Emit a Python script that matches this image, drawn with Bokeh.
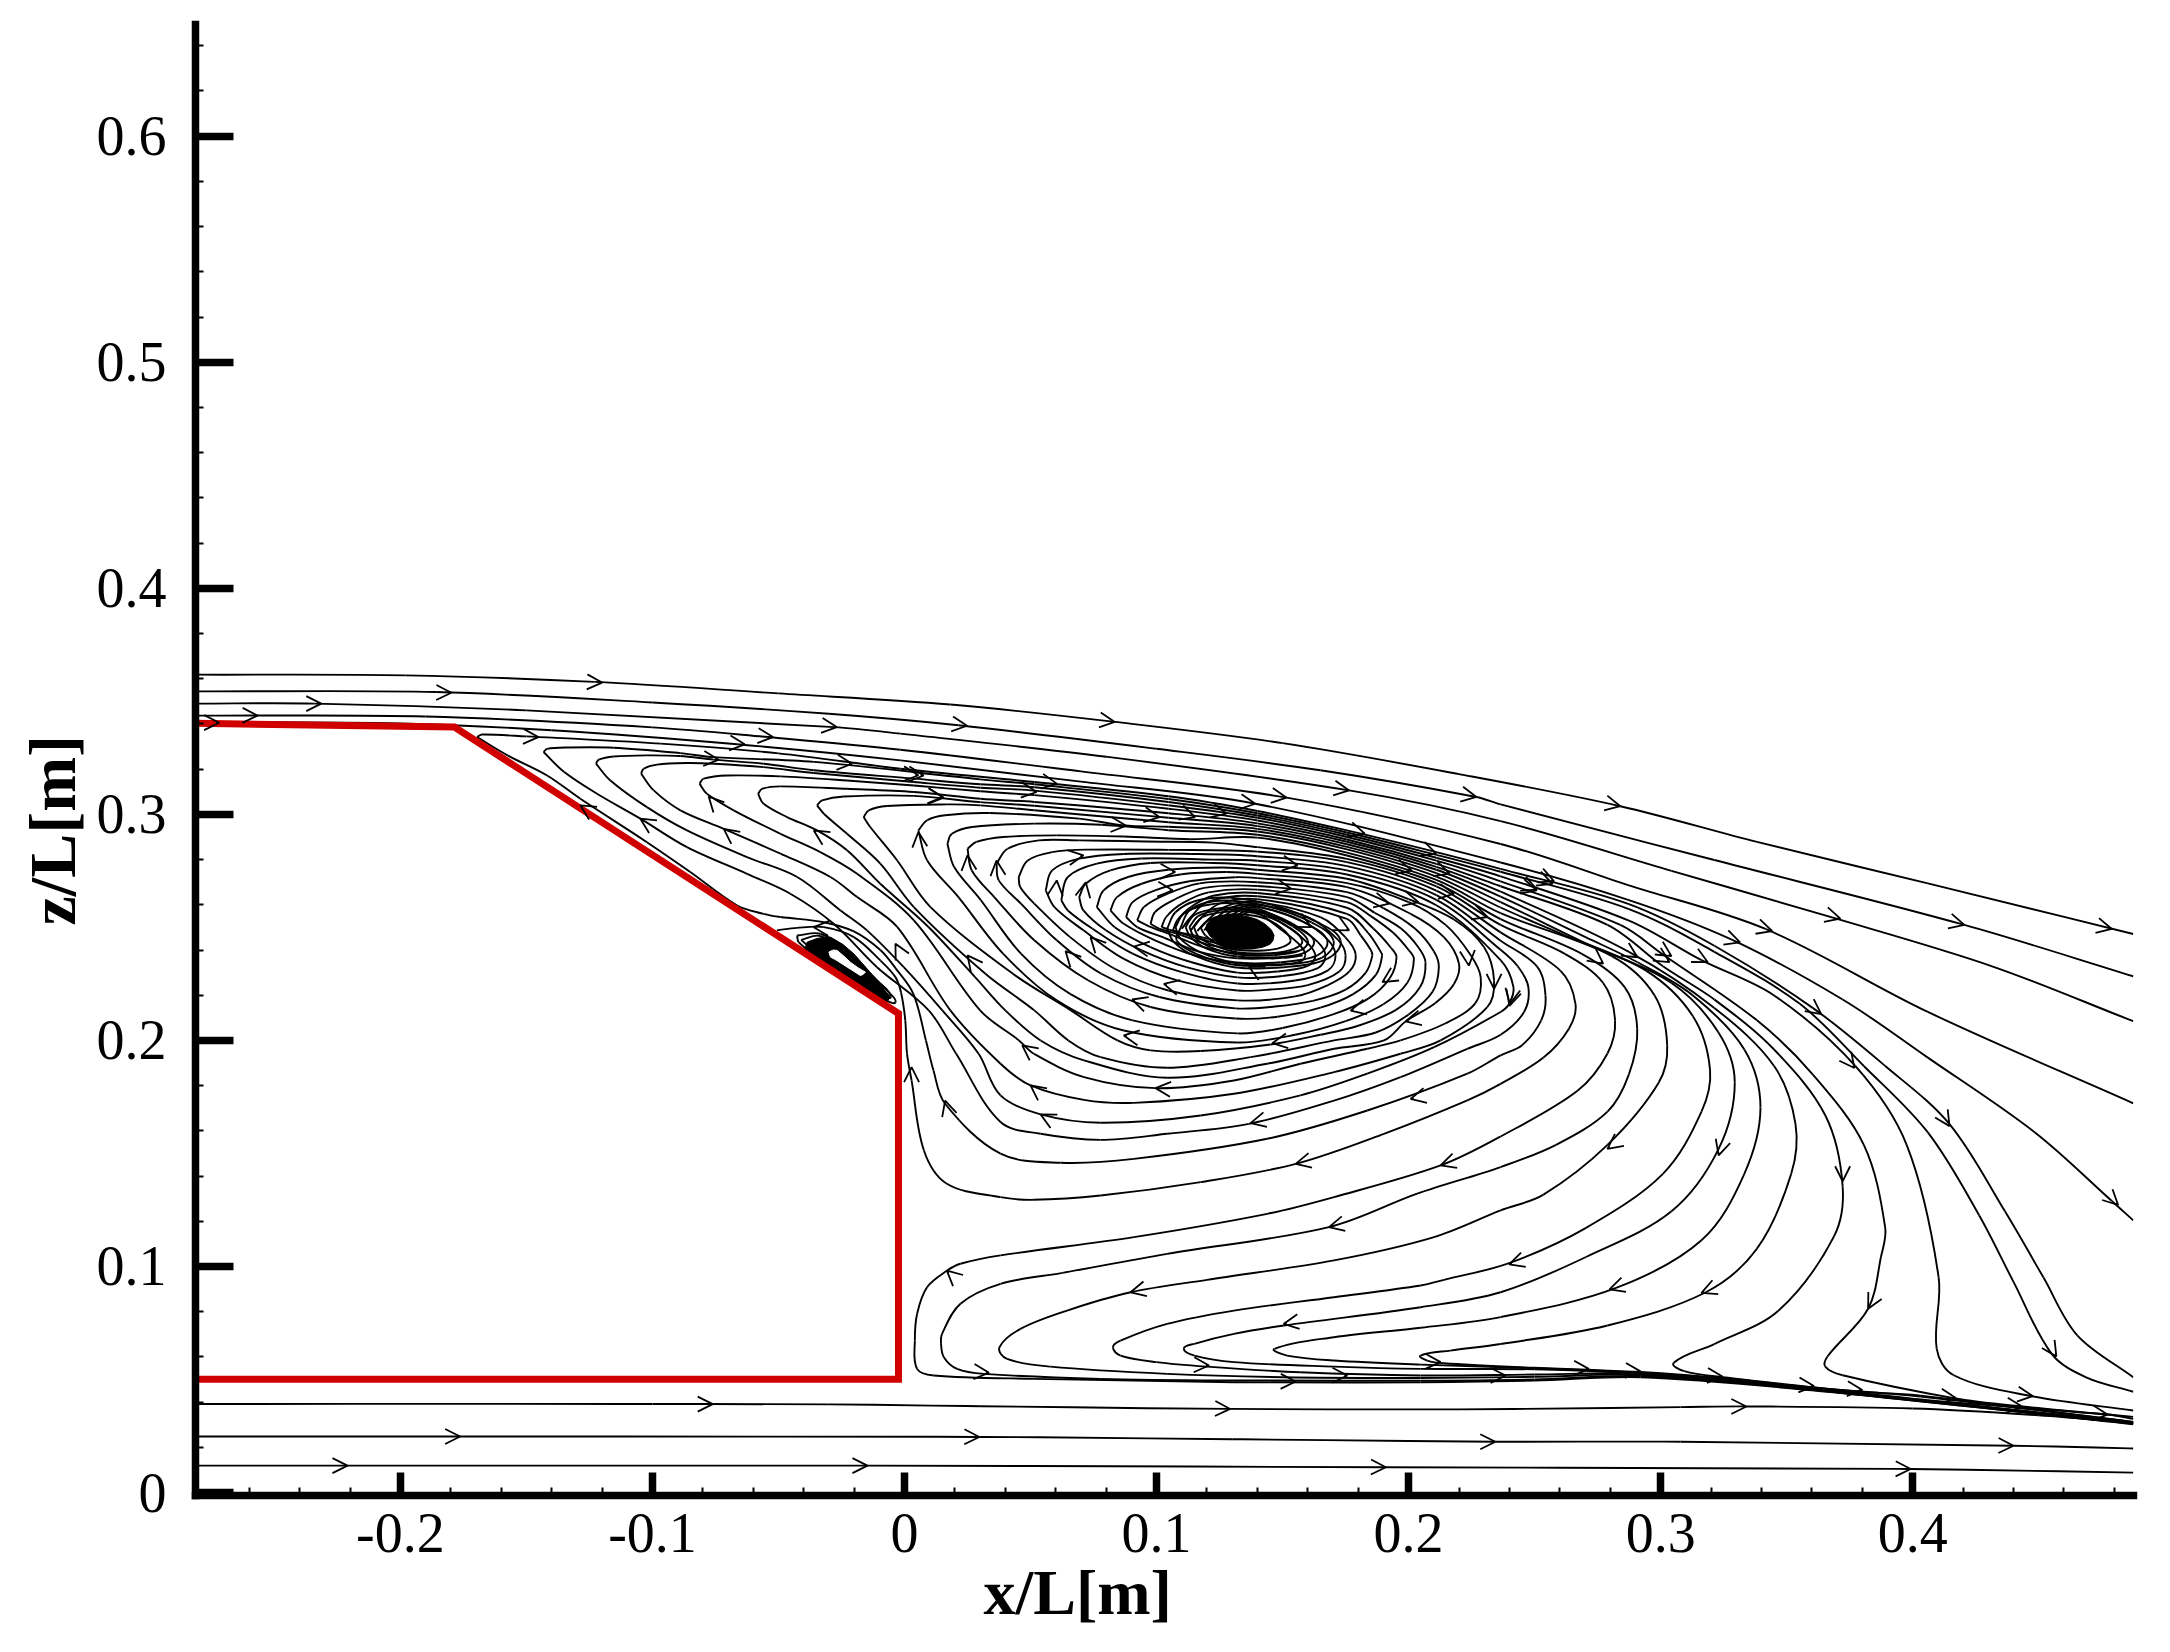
# -*- coding: utf-8 -*-
import math
from bokeh.plotting import figure
from bokeh.models import FixedTicker, Title, Arrow, OpenHead, ColumnDataSource
from bokeh.embed import file_html
from bokeh.resources import INLINE

x_major = [-0.2, -0.1, 0, 0.1, 0.2, 0.3, 0.4]
x_minor = [-0.26, -0.24, -0.22, -0.18, -0.16, -0.14, -0.12, -0.08, -0.06, -0.04, -0.02, 0.02, 0.04, 0.06, 0.08,
           0.12, 0.14, 0.16, 0.18, 0.22, 0.24, 0.26, 0.28, 0.32, 0.34, 0.36, 0.38, 0.42, 0.44, 0.46, 0.48]
z_major = [0, 0.1, 0.2, 0.3, 0.4, 0.5, 0.6]
z_minor = [0.02, 0.04, 0.06, 0.08, 0.12, 0.14, 0.16, 0.18, 0.22, 0.24, 0.26, 0.28, 0.32, 0.34, 0.36, 0.38,
           0.42, 0.44, 0.46, 0.48, 0.52, 0.54, 0.56, 0.58, 0.62, 0.64]
x_labels = {-0.2: "-0.2", -0.1: "-0.1", 0: "0", 0.1: "0.1", 0.2: "0.2", 0.3: "0.3", 0.4: "0.4"}
z_labels = {0: "0", 0.1: "0.1", 0.2: "0.2", 0.3: "0.3", 0.4: "0.4", 0.5: "0.5", 0.6: "0.6"}
x_title = "x/L[m]"
z_title = "z/L[m]"

body_x = [-0.2813, -0.1786, -0.0024, -0.0024, -0.2813]
body_z = [0.3403, 0.3386, 0.2119, 0.0501, 0.0501]

outer_1 = [(-.2813,.3618),(-.198,.3615),(-.123,.3586),(-.05,.3535),(.0182,.3486),(.0834,.3409),(.15,.3315),(.22,.3178),(.284,.3036),(.3382,.2878),(.406,.2695),(.4875,.2471)]
outer_2 = [(-.2813,.3544),(-.1858,.3541),(-.1,.3495),(-.03,.3445),(.0214,.3394),(.1,.329),(.165,.3195),(.2269,.3077),(.2365,.3044),(.3213,.2798),(.4205,.2511),(.4875,.2284)]
outer_3 = [(-.2813,.349),(-.234,.349),(-.15,.346),(-.0279,.3386),(-.0016,.3357),(.08,.3255),(.1764,.3106),(.2365,.297),(.3043,.275),(.368,.2544),(.4315,.2328),(.4875,.2085)]
outer_4 = [(-.2813,.3437),(-.19,.3433),(-.1,.3385),(-.0542,.3342),(-.0016,.3286),(.07,.319),(.1516,.3074),(.2365,.2869),(.2874,.2686),(.3416,.2493),(.406,.2126),(.4875,.1722)]
outer_5 = [(-.2813,.3409),(-.2,.3402),(-.14,.3372),(-.0664,.331),(-.0016,.3239),(.07,.3145),(.1392,.3047),(.2365,.2787),(.2874,.2621),(.328,.2447),(.3722,.2181),(.406,.1924),(.4485,.1593),(.479,.129),(.4875,.1204)]
lower_1 = [(-.2813,.0392),(-.1,.0392),(-.03,.039),(.03,.0382),(.1292,.037),(.22,.0368),(.3079,.0378),(.334,.0381),(.4,.0372),(.45,.0342),(.4875,.0308)]
lower_2 = [(-.2813,.0248),(-.1763,.0248),(.0297,.0246),(.13,.0236),(.2344,.0225),(.3079,.0225),(.44,.0207),(.4875,.0195)]
lower_3 = [(-.2813,.0119),(-.221,.0119),(-.0147,.0119),(.191,.0112),(.3992,.0104),(.4875,.0088)]

exit_a = [(-.1696,.3342),(-.1676,.3353),(-.15,.3345),(-.0968,.3313),(-.05,.327),(-.0016,.3202),(.0515,.3143),(.1047,.308),(.14,.3015),(.1755,.2929),(.211,.2833),(.2365,.2759),(.2874,.2603),(.3213,.2419),(.3603,.2144),(.3891,.1887),(.4146,.163),(.4366,.1244),(.4519,.0951),(.4654,.0694),(.4875,.051)]
exit_b = [(-.1432,.3276),(-.1418,.329),(-.1339,.3296),(-.1154,.3295),(-.089,.3271),(-.0757,.3253),(-.036,.3232),(.03,.3155),(.0515,.3133),(.1047,.3068),(.14,.3005),(.1755,.292),(.211,.2821),(.2365,.2746),(.2874,.2581),(.3213,.2392),(.3552,.2162),(.3806,.1887),(.406,.1593),(.4264,.1226),(.44,.0932),(.4553,.0611),(.4688,.051),(.4875,.0446)]
exit_c = [(-.1224,.3224),(-.1213,.3242),(-.1154,.3256),(-.1022,.3261),(-.089,.3258),(-.0757,.3242),(-.0559,.3224),(-.036,.3195),(.0037,.3158),(.0301,.3133),(.0515,.312),(.1047,.3055),(.14,.2995),(.1755,.291),(.211,.2808),(.2365,.2726),(.2874,.253),(.3162,.2355),(.345,.2199),(.3772,.1887),(.3976,.1538),(.4103,.0951),(.4095,.0638),(.4163,.0519),(.4468,.0427),(.4875,.0363)]
exit_d = [(-.1045,.318),(-.1035,.3202),(-.0982,.322),(-.0863,.3227),(-.0757,.3224),(-.0559,.3209),(-.036,.3183),(.0037,.3143),(.0301,.3118),(.0515,.3105),(.1047,.304),(.14,.2985),(.1755,.29),(.211,.2795),(.2365,.2704),(.284,.2511),(.3009,.238),(.3382,.2089),(.3603,.185),(.3806,.1538),(.3891,.1171),(.3874,.1042),(.3823,.0813),(.3662,.0602),(.3654,.0556),(.3722,.0519),(.4163,.0418),(.4434,.0381),(.4875,.0335)]
exit_12 = [(-.0813,.3136),(-.0797,.3158),(-.0704,.3172),(-.0492,.3168),(-.0228,.315),(.0037,.3128),(.0301,.3102),(.0515,.3085),(.1047,.3025),(.14,.2973),(.1755,.2889),(.211,.2781),(.2365,.2682),(.2789,.2511),(.3009,.2328),(.3213,.2181),(.345,.196),(.3654,.1667),(.3722,.1355),(.3688,.1134),(.3467,.0804),(.3213,.0657),(.3052,.0574),(.3094,.0537),(.3247,.051),(.362,.0464),(.406,.0409),(.4773,.0345),(.4875,.0326)]
exit_11 = [(-.0581,.3091),(-.0565,.3113),(-.0492,.3124),(-.0228,.3113),(.0037,.3099),(.0301,.3069),(.0515,.3055),(.1047,.3005),(.14,.296),(.1755,.2879),(.211,.2768),(.2365,.2658),(.2874,.2392),(.3213,.2144),(.345,.1887),(.3535,.163),(.3518,.141),(.3382,.1079),(.3179,.0886),(.2789,.0739),(.2365,.0657),(.2166,.0628),(.2047,.0606),(.2074,.0584),(.214,.0572),(.2497,.0552),(.2709,.0543),(.292,.0533),(.3225,.0508),(.3595,.0466),(.382,.0444),(.4032,.0429),(.4875,.0312)]
exit_10 = [(-.0347,.304),(-.0327,.3062),(-.0241,.3079),(.0037,.3082),(.0301,.3054),(.0515,.3038),(.1047,.2985),(.14,.2948),(.1755,.2868),(.211,.2755),(.2365,.2636),(.2704,.2456),(.2908,.2346),(.3128,.2199),(.3332,.196),(.3396,.1703),(.3332,.141),(.3162,.1116),(.2823,.0905),(.2365,.0776),(.2048,.0729),(.1704,.0687),(.1468,.0636),(.1518,.0606),(.1704,.0584),(.2048,.0566),(.2497,.055),(.2709,.0541),(.292,.053),(.3225,.0506),(.3595,.0464),(.4032,.0425),(.4875,.0312)]
exit_9 = [(-.0162,.2988),(-.0142,.3018),(-.0069,.3037),(.0169,.3044),(.0301,.304),(.0515,.3018),(.1047,.2965),(.14,.2936),(.1755,.2856),(.211,.274),(.2365,.2612),(.2704,.2429),(.3043,.2254),(.323,.2034),(.3294,.1814),(.323,.152),(.3043,.1244),(.2704,.1042),(.2365,.0886),(.2048,.082),(.1505,.0739),(.1307,.0702),(.115,.0658),(.1108,.0636),(.115,.0606),(.1307,.0577),(.1704,.0557),(.2048,.0547),(.25,.0545),(.292,.0525),(.36,.046),(.4875,.031)]
exit_8 = [(.0055,.2929),(.009,.2974),(.0161,.2996),(.0338,.3006),(.0693,.2981),(.087,.2951),(.1047,.2945),(.14,.2924),(.1755,.2845),(.211,.2725),(.2365,.2588),(.2619,.2465),(.2942,.2309),(.3128,.2107),(.3196,.1869),(.3162,.1685),(.3009,.141),(.2704,.1171),(.2399,.1015),(.214,.0941),(.2048,.0916),(.1704,.0864),(.1307,.0805),(.1042,.0746),(.0857,.0672),(.0827,.0643),(.0857,.0606),(.1,.0577),(.12,.0557),(.157,.0532),(.2048,.0518),(.25,.0522),(.292,.0525),(.36,.0458),(.4875,.0308)]
exit_7 = [(.017,.287),(.0188,.2914),(.0268,.2944),(.0515,.2959),(.0781,.2954),(.1047,.293),(.14,.291),(.1755,.2831),(.211,.271),(.2365,.2563),(.2806,.2373),(.2976,.2199),(.3026,.1979),(.2992,.1813),(.2789,.1538),(.2535,.1318),(.2365,.1248),(.2101,.113),(.1704,.1027),(.12,.0941),(.0897,.0886),(.0645,.0805),(.046,.0724),(.0377,.0643),(.0407,.0591),(.0579,.0557),(.1042,.0525),(.1505,.051),(.2048,.0507),(.25,.0512),(.292,.052),(.36,.0456),(.4875,.0306)]
exit_6 = [(.025,.2848),(.0285,.2878),(.0391,.29),(.0604,.2907),(.087,.2902),(.1136,.289),(.14,.2897),(.1755,.2818),(.211,.2696),(.2365,.2537),(.2687,.2383),(.2857,.2236),(.2907,.2052),(.2874,.185),(.2789,.1685),(.2585,.1538),(.2365,.144),(.2034,.1322),(.1684,.1174),(.1042,.1056),(.0627,.0972),(.0381,.0923),(.0222,.0835),(.0149,.0702),(.0145,.0658),(.0156,.0599),(.0209,.0547),(.0315,.0525),(.0778,.0503),(.1307,.0496),(.2048,.0495),(.25,.05),(.292,.0515),(.36,.0454),(.4875,.0304)]
exit_5 = [(.0365,.2782),(.0409,.2848),(.0533,.2885),(.0693,.2885),(.0958,.288),(.1224,.2875),(.14,.2855),(.1755,.2803),(.211,.2681),(.2365,.2511),(.262,.2383),(.2772,.2254),(.2819,.2089),(.2789,.1942),(.267,.1777),(.2365,.1575),(.2127,.1447),(.1704,.1307),(.1439,.1233),(.091,.113),(.0381,.1049),(.0222,.1012),(.0169,.0982),(.009,.0909),(.005,.0791),(.0041,.0673),(.005,.0547),(.0116,.0518),(.0513,.0503),(.1307,.0488),(.2048,.0488),(.25,.0495),(.292,.051),(.36,.0452),(.4875,.0302)]

ring_1 = [(.0453,.2723),(.0489,.2796),(.0586,.2833),(.0728,.2844),(.1047,.2843),(.14,.2835),(.1755,.2789),(.211,.2663),(.2365,.2478),(.2602,.2309),(.2662,.2162),(.2636,.2052),(.2535,.1924),(.2365,.1808),(.2233,.1735),(.1902,.1587),(.1552,.1454),(.1175,.1373),(.0778,.1314),(.0513,.1295),(.0381,.1307),(.0168,.1366),(.0077,.1513),(.0028,.1823),(.001,.1941),(.0003,.2089),(-.0014,.2213),(-.0036,.228),(-.0096,.2354),(-.0201,.2457),(-.032,.2501),(-.0427,.2498),(-.0506,.2487)]
ring_2 = [(.056,.2664),(.0586,.2752),(.0693,.2804),(.087,.2825),(.1136,.2825),(.14,.2815),(.1755,.2771),(.211,.2643),(.2365,.2441),(.2509,.2328),(.2543,.2199),(.2526,.2089),(.245,.1979),(.2365,.1934),(.2233,.1853),(.1836,.169),(.1439,.1565),(.091,.1476),(.0619,.1459),(.0381,.1499),(.0161,.172),(.0115,.1867),(.0085,.2),(.0035,.2206),(-.0036,.232),(-.0096,.24),(-.0201,.2482),(-.032,.2523),(-.0492,.2546),(-.0559,.256),(-.0664,.2597),(-.085,.2745),(-.1022,.2877),(-.1286,.3069),(-.1418,.3172),(-.1575,.3261),(-.1696,.3342)]
ring_3 = [(.0622,.262),(.0648,.2723),(.0763,.2782),(.094,.2805),(.1224,.28),(.14,.2795),(.1755,.2752),(.211,.2622),(.2365,.2401),(.2433,.2328),(.2475,.2236),(.2458,.2126),(.2365,.2025),(.2233,.1963),(.1968,.1838),(.1704,.1734),(.1366,.1631),(.1042,.1587),(.0778,.156),(.054,.1587),(.0381,.1639),(.0205,.1941),(.0096,.2133),(-.0109,.2324),(-.0281,.2516),(-.0453,.2649),(-.0625,.2737),(-.0863,.2855),(-.1048,.2981),(-.122,.3091),(-.135,.3187),(-.1432,.3276)]
ring_4 = [(.0693,.2634),(.0719,.2693),(.0817,.2752),(.0976,.2785),(.1224,.2785),(.14,.2775),(.1755,.2734),(.211,.2598),(.2365,.2355),(.2416,.2236),(.2399,.2162),(.2365,.2126),(.2101,.197),(.1836,.1853),(.1571,.1757),(.1175,.1668),(.0778,.1636),(.054,.1673),(.0381,.1757),(.0294,.1941),(.015,.2133),(-.0003,.2324),(-.0149,.2487),(-.0254,.2575),(-.0426,.2723),(-.0625,.2811),(-.0863,.2929),(-.1022,.3032),(-.1167,.315),(-.1224,.3224)]
ring_5 = [(.0763,.259),(.079,.2664),(.0887,.2723),(.1047,.2755),(.126,.2765),(.14,.2755),(.1755,.2715),(.2,.2625),(.218,.2535),(.2299,.2413),(.2339,.2265),(.2312,.2147),(.2127,.2),(.1968,.1941),(.1704,.186),(.1307,.1764),(.091,.1724),(.0712,.1737),(.05,.1801),(.0381,.1897),(.0182,.2133),(-.0029,.2502),(-.0188,.2634),(-.0294,.2723),(-.0492,.2826),(-.0717,.2936),(-.0889,.3018),(-.0995,.3106),(-.1045,.318)]
ring_6 = [(.0817,.2575),(.0843,.2634),(.0941,.2693),(.11,.2735),(.1277,.2745),(.14,.2737),(.1755,.2696),(.2,.2612),(.2148,.251),(.2246,.2378),(.2286,.228),(.2265,.2165),(.2145,.2075),(.1968,.2),(.1836,.1963),(.1571,.1897),(.1307,.1823),(.0996,.1789),(.0712,.1838),(.0513,.1941),(.0454,.2),(.03,.2133),(.0037,.2531),(-.0188,.2737),(-.0334,.2833),(-.0492,.2914),(-.0678,.3018),(-.0784,.3091),(-.0813,.3136)]
ring_7 = [(.0879,.2546),(.0905,.2612),(.0994,.2664),(.1136,.2705),(.1313,.2722),(.14,.2718),(.1755,.2678),(.2008,.256),(.214,.2457),(.22,.2339),(.218,.225),(.2105,.2165),(.1988,.2084),(.1902,.2),(.1704,.1963),(.1439,.1897),(.1042,.1835),(.0712,.1912),(.054,.2),(.04,.2133),(.028,.228),(.0095,.2502),(-.0096,.2693),(-.0228,.2841),(-.0347,.2929),(-.0466,.2988),(-.0559,.3047),(-.0581,.3091)]
ring_8 = [(.0923,.2531),(.095,.259),(.1029,.2642),(.1171,.2695),(.14,.27),(.1755,.2656),(.19,.2585),(.2025,.2495),(.21,.2395),(.212,.2325),(.2095,.2215),(.2,.2115),(.187,.2035),(.1704,.2),(.1373,.1926),(.1042,.1879),(.0778,.1926),(.065,.2),(.0515,.2133),(.0321,.2295),(.0037,.259),(-.0096,.2782),(-.0228,.2914),(-.032,.3003),(-.0347,.304)]
ring_9 = [(.0976,.2516),(.0994,.2568),(.1065,.262),(.1189,.2675),(.14,.2683),(.1755,.2634),(.1865,.2565),(.197,.2495),(.204,.241),(.2067,.2345),(.2045,.2235),(.195,.2135),(.18,.2065),(.165,.2025),(.1452,.1982),(.1175,.1953),(.0976,.1956),(.0845,.2),(.066,.2133),(.043,.2295),(.0103,.259),(-.0029,.2796),(-.0136,.2944),(-.0162,.2988)]
ring_10 = [(.102,.2501),(.1038,.2546),(.11,.2605),(.1206,.2655),(.14,.2667),(.1755,.2612),(.185,.255),(.194,.2475),(.2,.24),(.2021,.236),(.1995,.2255),(.19,.216),(.175,.2085),(.155,.2025),(.132,.1991),(.087,.2044),(.0604,.2177),(.0391,.2384),(.0214,.2634),(.009,.2796),(.0055,.2929)]
ring_11 = [(.1065,.2487),(.1082,.2531),(.1136,.259),(.1224,.264),(.14,.2652),(.1755,.2587),(.186,.2495),(.193,.241),(.1952,.2368),(.1925,.2275),(.184,.2185),(.17,.2115),(.15,.2055),(.1321,.2031),(.0905,.2089),(.0657,.2206),(.0462,.2384),(.0303,.262),(.0197,.2767),(.017,.287)]
ring_12 = [(.11,.2494),(.1135,.2545),(.1206,.2615),(.14,.2638),(.1755,.256),(.184,.2475),(.1885,.24),(.1895,.2375),(.187,.229),(.178,.2205),(.165,.2145),(.148,.2105),(.1313,.2097),(.0976,.2148),(.0728,.2266),(.0515,.2443),(.0356,.2634),(.0267,.2752),(.025,.2848)]
ring_13 = [(.1136,.2487),(.117,.2535),(.125,.2605),(.14,.2625),(.1755,.2538),(.181,.2465),(.185,.24),(.1856,.2375),(.183,.23),(.175,.2225),(.162,.2175),(.147,.215),(.1313,.2142),(.1011,.2192),(.0781,.2295),(.0604,.2443),(.0462,.2605),(.0374,.2708),(.0365,.2782)]
ring_14 = [(.1162,.2484),(.12,.253),(.128,.2595),(.14,.2612),(.165,.2545),(.175,.2455),(.179,.238),(.1765,.2305),(.168,.2245),(.155,.2195),(.1321,.2177),(.1047,.2221),(.0834,.2317),(.0657,.2457),(.0515,.2605),(.0459,.2679),(.0453,.2723)]
ring_15 = [(.1189,.2487),(.122,.2525),(.13,.259),(.14,.26),(.16,.2545),(.172,.2445),(.175,.2375),(.1725,.2305),(.16,.2245),(.145,.2225),(.1321,.2221),(.1082,.2266),(.087,.2361),(.071,.2487),(.0595,.259),(.056,.2664)]
ring_16 = [(.1206,.249),(.124,.2525),(.132,.2585),(.14,.2592),(.158,.2525),(.168,.2445),(.171,.2375),(.168,.231),(.155,.2265),(.1321,.2252),(.11,.2302),(.0905,.2384),(.0746,.2494),(.0648,.2575),(.0622,.262)]
ring_17 = [(.1224,.2495),(.126,.2525),(.134,.258),(.14,.2584),(.155,.2505),(.164,.2435),(.167,.2375),(.164,.232),(.15,.2285),(.1321,.2279),(.1118,.2324),(.0941,.2398),(.0799,.2487),(.071,.2575),(.0693,.2634)]
ring_18 = [(.1245,.25),(.128,.2525),(.135,.2572),(.14,.2575),(.153,.2495),(.16,.243),(.163,.2375),(.16,.233),(.148,.2305),(.1321,.23),(.1136,.2347),(.0976,.2413),(.0834,.2501),(.0763,.259)]
ring_19 = [(.126,.25),(.13,.2525),(.136,.2565),(.14,.2565),(.15,.2485),(.157,.242),(.159,.2375),(.156,.2345),(.145,.2335),(.1321,.2341),(.1153,.2376),(.0994,.2443),(.087,.2516),(.0817,.2575)]
arc_20 = [(.158,.2375),(.15,.2365),(.1321,.2363),(.116,.2395),(.1029,.2455),(.0925,.25),(.0879,.2546)]
arc_21 = [(.156,.2395),(.148,.2385),(.1321,.2385),(.118,.2415),(.1065,.2465),(.097,.2505),(.0923,.2531)]
arc_22 = [(.1321,.24),(.12,.2425),(.11,.2465),(.101,.2495),(.0976,.2516)]
arc_23 = [(.1321,.241),(.122,.2435),(.1125,.2465),(.105,.249),(.102,.2501)]
arc_24 = [(.1321,.2418),(.124,.244),(.115,.2465),(.109,.2478),(.1065,.2487)]
core_1 = [(.1042,.2494),(.1075,.2567),(.1161,.2619),(.1294,.2631),(.1466,.2597),(.1638,.2523),(.173,.2442),(.1677,.2361),(.1505,.2324),(.1307,.2324),(.1148,.2376),(.1069,.2435),(.1042,.2494)]
core_2 = [(.1075,.2501),(.1108,.256),(.1188,.2597),(.1307,.2607),(.1466,.2575),(.1598,.2516),(.1677,.2442),(.1638,.2376),(.1492,.2346),(.1307,.2346),(.1175,.239),(.1095,.2449),(.1075,.2501)]
core_3 = [(.1115,.2501),(.1148,.2553),(.1214,.2578),(.132,.2587),(.1452,.256),(.1558,.2504),(.1624,.2442),(.1591,.239),(.1479,.2368),(.132,.2371),(.1201,.2405),(.1135,.2457),(.1115,.2501)]
core_4 = [(.1148,.2501),(.1181,.2545),(.1241,.2564),(.1333,.2572),(.1439,.2548),(.1525,.2501),(.1578,.2442),(.1545,.2405),(.1452,.2386),(.132,.239),(.1228,.242),(.1168,.2457),(.1148,.2501)]
core_5 = [(.1175,.2498),(.1208,.2533),(.1267,.2553),(.1347,.2557),(.1433,.2538),(.1499,.2494),(.1532,.2442),(.1499,.2413),(.1426,.2398),(.132,.2401),(.1241,.2427),(.1194,.2464),(.1175,.2498)]
core_6 = [(.1095,.2498),(.1128,.2572),(.1198,.261),(.13,.2618),(.146,.2588),(.1615,.2522),(.1702,.2442),(.1655,.2365),(.15,.2335),(.1307,.2335),(.116,.2382),(.108,.2442),(.1095,.2498)]
core_7 = [(.113,.2501),(.1165,.255),(.1228,.2572),(.1325,.258),(.1445,.2555),(.154,.2505),(.16,.2442),(.157,.2398),(.1465,.2377),(.1325,.238),(.1215,.2412),(.115,.2457),(.113,.2501)]
small_1 = [(-.0426,.2464),(-.0334,.2472),(-.0228,.2398),(-.0135,.2295),(-.0056,.2206),(-.0036,.2169),(-.0069,.2175),(-.0148,.2232),(-.0267,.2315),(-.036,.2382),(-.042,.2435),(-.0426,.2464)]
small_2 = [(-.041,.2445),(-.0335,.2462),(-.023,.2385),(-.013,.228),(-.0055,.2195),(-.012,.2225),(-.0255,.2318),(-.036,.2395),(-.041,.2445)]
core_blot = [(.1194,.2495),(.12,.2515),(.1215,.2535),(.124,.2547),(.128,.2553),(.132,.2553),(.136,.2548),(.14,.2535),(.143,.2515),(.1455,.249),(.1466,.2465),(.1462,.2442),(.145,.2425),(.142,.2412),(.138,.2405),(.134,.2404),(.13,.2408),(.1265,.2418),(.124,.2435),(.1212,.2462)]
small_blot = [(-.0386,.2435),(-.0345,.2452),(-.0294,.2457),(-.0245,.2425),(-.0201,.2383),(-.0155,.2325),(-.0109,.2265),(-.008,.2225),(-.0056,.2191),(-.0075,.2165),(-.0148,.2215),(-.0205,.2258),(-.0267,.23),(-.036,.2365),(-.0395,.2405)]
small_hole = [(-.03,.2391),(-.0283,.24),(-.0267,.2398),(-.024,.2372),(-.0215,.2346),(-.0185,.2322),(-.0155,.2302),(-.0165,.2292),(-.0175,.2287),(-.021,.2312),(-.0248,.2339),(-.0275,.2358),(-.0294,.2369)]

streamlines = [outer_1, outer_2, outer_3, outer_4, outer_5, lower_1, lower_2, lower_3,
               exit_a, exit_b, exit_c, exit_d, exit_12, exit_11, exit_10, exit_9, exit_8, exit_7, exit_6, exit_5,
               ring_1, ring_2, ring_3, ring_4, ring_5, ring_6, ring_7, ring_8, ring_9, ring_10, ring_11, ring_12,
               ring_13, ring_14, ring_15, ring_16, ring_17, ring_18, ring_19, arc_20, arc_21, arc_22, arc_23, arc_24,
               core_1, core_2, core_3, core_4, core_5, core_6, core_7, small_1, small_2]

# arrowhead tips and travel direction (degrees, 0 = right, 90 = up)
arrows = [(-.12,.3583,-3),(-.1798,.3538,-1),(-.2314,.349,0),(-.2567,.3437,-1),(-.2719,.3405,-1),(-.0269,.3386,-7),(-.0522,.3342,-6),(-.0634,.331,-6),(-.1453,.3342,-3),
          (.0248,.3392,-8),(-.0737,.3242,-5),(-.0208,.3224,-6),(.0156,.3074,-6),(.0076,.3172,-6),(.0834,.3409,-8),(.284,.3036,-14),(.479,.2493,-15),(.2269,.3077,-12),(.4205,.2511,-16),
          (.1764,.3106,-10),(.3713,.2539,-17),(.1516,.3074,-9),(.3442,.2484,-19),(.1392,.3047,-9),(.3315,.2434,-21),(.4815,.1272,-47),
          (.0604,.3136,-10),(.0152,.3077,-5),(.0055,.3173,-6),(.0524,.3099,-8),(.1011,.2988,-10),(.1153,.2988,-20),(.1277,.3003,-15),(.0879,.295,-5),(.1826,.2915,-17),(.211,.2826,-20),
          (.2571,.2693,-22),(.2163,.2738,-20),(.2012,.2752,-15),(.2508,.2664,-17),(.218,.2649,-10),(.2039,.2612,-15),(.1924,.2605,-15),(.156,.2774,-10),(.1534,.2671,-10),(.1074,.2745,-3),(.1064,.2664,-5),
          (.2313,.2546,-20),(.1764,.2487,-30),(.071,.2819,10),(.1614,.2501,-30),
          (.2577,.2704,-25),(.2509,.2667,-25),(.3043,.2373,-35),(.3035,.2346,-35),(.2908,.2368,-35),(.2772,.234,-40),(.3187,.2346,-30),(.3637,.2116,-40),(.3769,.1878,-55),(.4146,.1621,-60),(.457,.0602,-60),
          (.3722,.1377,-90),(.3823,.0813,-115),(.24,.2153,-105),(.323,.1492,-105),(.2239,.2331,-85),(.2339,.2228,-90),(.2402,.2162,-100),
          (.2789,.152,220),(.2399,.1009,200),(.2797,.0899,200),(.3162,.0883,205),(.1896,.2258,215),(.177,.2132,195),(.1988,.2084,195),(.1459,.1988,190),(.2008,.1741,195),(.1373,.1634,195),
          (.0996,.1789,175),(.087,.2022,170),(.0903,.2181,160),(.1029,.225,165),(.1366,.2327,150),(.091,.2415,170),(.0738,.2457,130),(.0639,.2395,130),
          (.2127,.1447,200),(.1684,.1174,195),(.1552,.1454,195),(.054,.1673,150),(.05,.1801,140),(.0467,.1978,140),(.0168,.0982,135),(.0897,.0886,195),(.1504,.0746,190),
          (.0055,.2922,95),(.025,.2819,95),(.0365,.2796,95),(.0604,.2708,85),(.0719,.27,80),(.025,.2376,125),(.0028,.1882,90),(.0161,.1734,105),
          (-.1286,.304,145),(-.1048,.2981,145),(-.0717,.2936,140),(-.0777,.3079,130),(-.036,.2929,145),(-.0036,.2428,115),(-.036,.2501,175),
          (.0335,.053,-5),(.1208,.0562,-3),(.1552,.0491,-1),(.1757,.0518,-1),(.2127,.0577,-3),(.2385,.0518,0),(.2715,.0547,-3),(.292,.0536,-4),(.3245,.0513,-5),(.3608,.0471,-5),(.38,.0454,-5),
          (.4476,.0427,-8),(.4171,.0418,-8),(.4434,.0381,-5),(.4773,.0345,-7),
          (-.0761,.0391,0),(.1292,.037,-2),(.334,.0381,0),(-.1763,.0248,0),(.0297,.0246,-1),(.2344,.0225,0),(.44,.0207,-1),(-.221,.0119,0),(-.0147,.0119,0),(.191,.0112,-1),(.3992,.0104,-1)]


def smooth(points):
    """Bezier segments that pass through the read points."""
    segs = []
    n = len(points)
    tang = []
    for i in range(n):
        a = points[max(i - 1, 0)]
        b = points[min(i + 1, n - 1)]
        dx, dy = b[0] - a[0], b[1] - a[1]
        d = math.hypot(dx, dy) or 1.0
        tang.append((dx / d, dy / d))
    for i in range(n - 1):
        p, q = points[i], points[i + 1]
        d = math.hypot(q[0] - p[0], q[1] - p[1]) / 3.0
        segs.append((p[0], p[1], q[0], q[1],
                     p[0] + tang[i][0] * d, p[1] + tang[i][1] * d,
                     q[0] - tang[i + 1][0] * d, q[1] - tang[i + 1][1] * d))
    return segs


p = figure(width=2154, height=1636, x_range=(-0.2813, 0.4876), y_range=(-0.0013, 0.6494),
           output_backend="svg", toolbar_location=None, min_border_left=195, min_border_right=21,
           min_border_top=24, min_border_bottom=141, background_fill_color="white", outline_line_color=None)
p.grid.visible = False

for ax, major, minor, labels, tick_in in ((p.xaxis[0], x_major, x_minor, x_labels, 23), (p.yaxis[0], z_major, z_minor, z_labels, 38)):
    ax.ticker = FixedTicker(ticks=major, minor_ticks=minor)
    ax.major_label_overrides = labels
    ax.axis_line_width = 7.5
    ax.axis_line_color = "black"
    ax.axis_line_cap = "square"
    ax.major_tick_in = tick_in
    ax.major_tick_out = 0
    ax.major_tick_line_width = 7.5
    ax.major_tick_line_color = "black"
    ax.minor_tick_in = 8
    ax.minor_tick_out = 0
    ax.minor_tick_line_width = 2
    ax.minor_tick_line_color = "black"
    ax.major_label_text_font = "Liberation Serif"
    ax.major_label_text_font_size = "56px"
    ax.major_label_text_color = "black"
p.xaxis[0].major_label_standoff = 18
p.yaxis[0].major_label_standoff = 29
p.yaxis[0].major_label_orientation = "horizontal"

p.add_layout(Title(text=x_title, align="left", offset=788, standoff=0, text_font="Liberation Serif", text_font_style="bold",
                   text_font_size="64px", text_color="black"), "below")
p.add_layout(Title(text=z_title, align="left", offset=570, standoff=10, text_font="Liberation Serif", text_font_style="bold",
                   text_font_size="66px", text_color="black"), "left")

segs = [s for line in streamlines for s in smooth(line)]
p.bezier(x0=[s[0] for s in segs], y0=[s[1] for s in segs], x1=[s[2] for s in segs], y1=[s[3] for s in segs],
         cx0=[s[4] for s in segs], cy0=[s[5] for s in segs], cx1=[s[6] for s in segs], cy1=[s[7] for s in segs],
         line_color="black", line_width=1.9)

p.patch([c[0] for c in core_blot], [c[1] for c in core_blot], fill_color="black", line_color="black")
p.patch([c[0] for c in small_blot], [c[1] for c in small_blot], fill_color="black", line_color="black")
p.patch([c[0] for c in small_hole], [c[1] for c in small_hole], fill_color="white", line_color="white")

p.line(body_x, body_z, line_color="#d00000", line_width=7, line_join="miter")

eps = 0.0012
src = ColumnDataSource(dict(
    xs=[a[0] - eps * math.cos(math.radians(a[2])) for a in arrows],
    ys=[a[1] - eps * math.sin(math.radians(a[2])) for a in arrows],
    xe=[a[0] for a in arrows],
    ye=[a[1] for a in arrows]))
p.add_layout(Arrow(end=OpenHead(size=15, line_width=1.8, line_color="black"), source=src,
                   x_start="xs", y_start="ys", x_end="xe", y_end="ye", line_width=1.8, line_color="black"))

open("out.html", "w").write(file_html(p, INLINE))
